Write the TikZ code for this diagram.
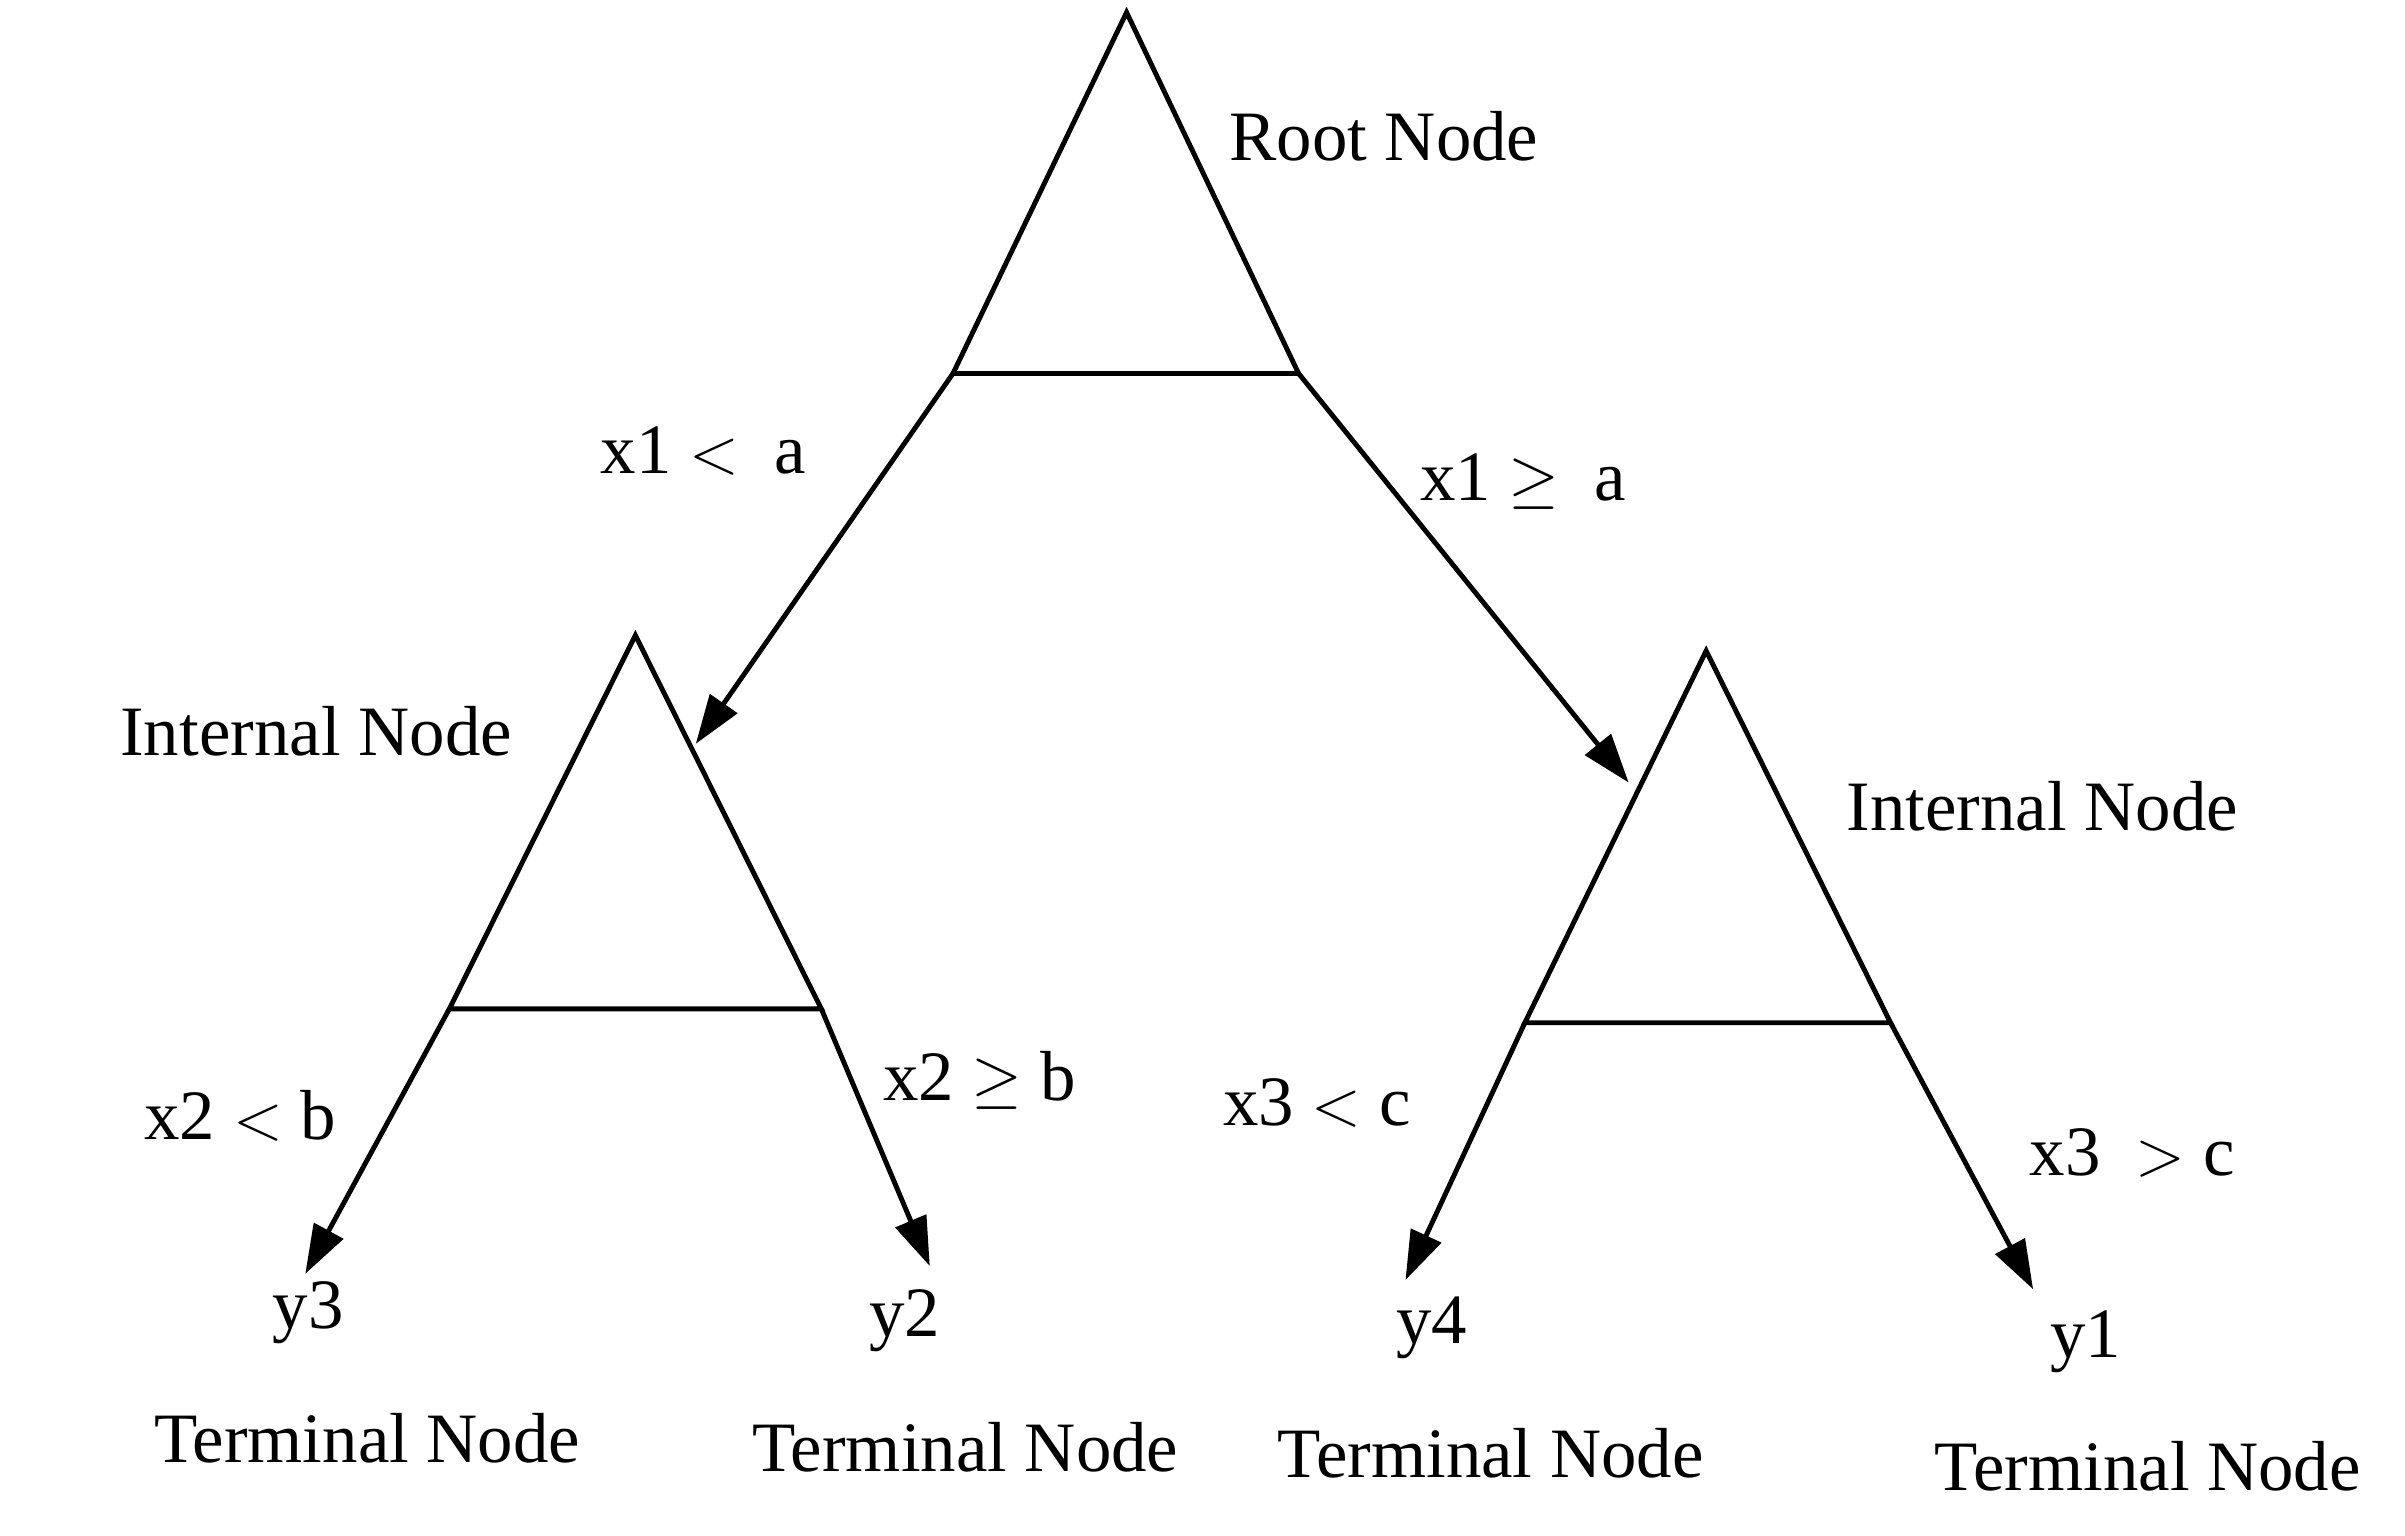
\documentclass[tikz,border=0pt]{standalone}
\usepackage{fontspec}
\setmainfont{Liberation Serif}
\usetikzlibrary{arrows.meta}
\begin{document}
\begin{tikzpicture}[x=0.01cm,y=-0.01cm,
  tri/.style={line width=0.9pt},
  arr/.style={line width=0.9pt,-{Triangle[length=9pt,width=6pt]}},
  lab/.style={font=\fontsize{13}{15}\selectfont,inner sep=0pt}]
\useasboundingbox (0,0) rectangle (1552,991);
% root
\coordinate (ra) at (727,8); \coordinate (rl) at (615,241); \coordinate (rr) at (838,241);
\draw[tri] (rl) -- (ra) -- (rr) -- cycle;
% left internal
\coordinate (la) at (410,410); \coordinate (ll) at (290,651); \coordinate (lr) at (530,651);
\draw[tri] (ll) -- (la) -- (lr) -- cycle;
% right internal
\coordinate (ia) at (1101,420); \coordinate (il) at (984,660); \coordinate (ir) at (1220,660);
\draw[tri] (il) -- (ia) -- (ir) -- cycle;
% arrow targets
\coordinate (tl) at (449,480); \coordinate (tr) at (1051,505);
\coordinate (t3) at (197,822); \coordinate (t2) at (600,817);
\coordinate (t4) at (907,826); \coordinate (t1) at (1312,832);
\draw[arr] (rl) -- (tl);
\draw[arr] (rr) -- (tr);
\draw[arr] (ll) -- (t3);
\draw[arr] (lr) -- (t2);
\draw[arr] (il) -- (t4);
\draw[arr] (ir) -- (t1);
% labels
\node[lab] (n1) at (893,88) {Root Node};
\node[lab] (n2) at (204,472) {Internal Node};
\node[lab] (n3) at (1318,520) {Internal Node};
\node[lab] (e1) at (454,291) {x1 $<$\ \ a};
\node[lab] (e2) at (983,311) {x1 $\geq$\ \ a};
\node[lab] (e3) at (155,720) {x2 $<$ b};
\node[lab] (e4) at (632,697) {x2 $\geq$ b};
\node[lab] (e5) at (850,712) {x3 $<$ c};
\node[lab] (e6) at (1376,744) {x3\ \ $>$ c};
\node[lab] (y3) at (199,847) {y3};
\node[lab] (y2) at (584,852) {y2};
\node[lab] (y4) at (924,857) {y4};
\node[lab] (y1) at (1346,866) {y1};
\node[lab] (m1) at (237,928) {Terminal Node};
\node[lab] (m2) at (623,934) {Terminal Node};
\node[lab] (m3) at (962,938) {Terminal Node};
\node[lab] (m4) at (1386,946) {Terminal Node};
\end{tikzpicture}
\end{document}
